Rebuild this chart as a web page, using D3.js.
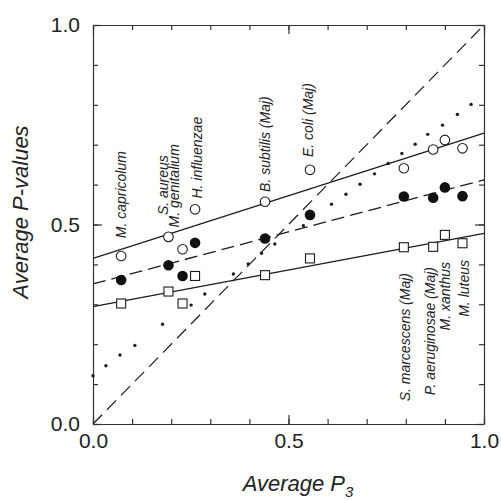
<!DOCTYPE html>
<html>
<head>
<meta charset="utf-8">
<script src="https://cdn.jsdelivr.net/npm/d3@7"></script>
<style>
  html, body { margin: 0; padding: 0; background: #fff; }
  svg { display: block; font-family: "Liberation Sans", Arial, Helvetica, sans-serif; }
</style>
</head>
<body>
<svg id="chart" width="501" height="501"></svg>
<script>
// ---------------- data ----------------
const organisms = ["M. capricolum", "S. aureus", "M. genitalium", "H. influenzae", "B. subtilis (Maj)",
                   "E. coli (Maj)", "S. marcescens (Maj)", "P. aeruginosae (Maj)", "M. xanthus", "M. luteus"];
const avgP3 = [0.072, 0.193, 0.229, 0.261, 0.440, 0.555, 0.795, 0.870, 0.900, 0.945];
const openCircleValues   = [0.421, 0.469, 0.438, 0.538, 0.557, 0.637, 0.641, 0.688, 0.712, 0.691];
const filledCircleValues = [0.361, 0.398, 0.371, 0.454, 0.465, 0.524, 0.570, 0.567, 0.593, 0.571];
const squareValues       = [0.302, 0.332, 0.302, 0.371, 0.373, 0.415, 0.443, 0.444, 0.474, 0.453];
// regression lines: [intercept, slope]
const openFit   = [0.415, 0.314];
const filledFit = [0.351, 0.261];
const squareFit = [0.294, 0.184];
// small dots (x, y)
const dotX = [0.000, 0.033, 0.069, 0.107, 0.178, 0.251, 0.286, 0.359, 0.397, 0.431, 0.465, 0.538,
              0.610, 0.647, 0.683, 0.720, 0.755, 0.790, 0.824, 0.856, 0.894, 0.932, 0.967];
const dotY = [0.121, 0.146, 0.173, 0.197, 0.250, 0.298, 0.326, 0.376, 0.401, 0.428, 0.451, 0.497,
              0.551, 0.576, 0.601, 0.627, 0.653, 0.678, 0.701, 0.726, 0.749, 0.776, 0.801];
const majorTicks = [0, 0.5, 1.0];
const minorTicks = [0, 0.1, 0.2, 0.3, 0.4, 0.5, 0.6, 0.7, 0.8, 0.9, 1.0];
const xTitle = "Average P";
const xTitleSub = "3";
const yTitle = "Average P-values";

// ---------------- layout ----------------
const svg = d3.select("#chart");
const x = d3.scaleLinear().domain([0, 1]).range([93, 484]);
const y = d3.scaleLinear().domain([0, 1]).range([424, 25]);
const ink = "#1c1c1c";

// label layout (pixel offsets): side, horizontal shift, gap
const labelLayout = [
  {side: "above", dx: 0,  gap: 13},
  {side: "above", dx: -5, gap: 17},
  {side: "above", dx: -8, gap: 17},
  {side: "above", dx: 2,  gap: 6},
  {side: "above", dx: 0,  gap: 5},
  {side: "above", dx: -2, gap: 8},
  {side: "below", dx: 1,  end: 273},
  {side: "below", dx: -3, end: 267},
  {side: "below", dx: 0,  end: 262},
  {side: "below", dx: 2,  end: 260}
];

// ---------------- axes (frame with inward ticks) ----------------
function styleAxis(g) {
  g.selectAll("path, line").attr("stroke", "#333").attr("stroke-width", 1.2);
  g.selectAll("text").attr("fill", "#222").style("font-size", "21px");
}
const fmt = d3.format(".1f");

// minor ticks on all four sides
svg.append("g").attr("transform", `translate(0,${y(0)})`)
  .call(d3.axisBottom(x).tickValues(minorTicks).tickSizeInner(-5).tickSizeOuter(0).tickFormat(""))
  .call(styleAxis);
svg.append("g").attr("transform", `translate(0,${y(1)})`)
  .call(d3.axisTop(x).tickValues(minorTicks).tickSizeInner(-5).tickSizeOuter(0).tickFormat(""))
  .call(styleAxis);
svg.append("g").attr("transform", `translate(${x(0)},0)`)
  .call(d3.axisLeft(y).tickValues(minorTicks).tickSizeInner(-5).tickSizeOuter(0).tickFormat(""))
  .call(styleAxis);
svg.append("g").attr("transform", `translate(${x(1)},0)`)
  .call(d3.axisRight(y).tickValues(minorTicks).tickSizeInner(-5).tickSizeOuter(0).tickFormat(""))
  .call(styleAxis);

// major ticks with labels
svg.append("g").attr("transform", `translate(0,${y(0)})`)
  .call(d3.axisBottom(x).tickValues(majorTicks).tickSizeInner(-9).tickSizeOuter(0).tickPadding(9).tickFormat(fmt))
  .call(styleAxis).call(g => g.select(".domain").remove());
svg.append("g").attr("transform", `translate(0,${y(1)})`)
  .call(d3.axisTop(x).tickValues(majorTicks).tickSizeInner(-9).tickSizeOuter(0).tickFormat(""))
  .call(styleAxis).call(g => g.select(".domain").remove());
svg.append("g").attr("transform", `translate(${x(0)},0)`)
  .call(d3.axisLeft(y).tickValues(majorTicks).tickSizeInner(-9).tickSizeOuter(0).tickPadding(13).tickFormat(fmt))
  .call(styleAxis).call(g => g.select(".domain").remove());
svg.append("g").attr("transform", `translate(${x(1)},0)`)
  .call(d3.axisRight(y).tickValues(majorTicks).tickSizeInner(-9).tickSizeOuter(0).tickFormat(""))
  .call(styleAxis).call(g => g.select(".domain").remove());

// ---------------- lines ----------------
const line = d3.line().x(d => x(d[0])).y(d => y(d[1]));
const fitPts = f => [[0, f[0]], [1, f[0] + f[1]]];

svg.append("path").datum([[0, 0], [1, 1]]).attr("d", line)
  .attr("fill", "none").attr("stroke", ink).attr("stroke-width", 1.2).attr("stroke-dasharray", "13,7");
svg.append("path").datum(fitPts(openFit)).attr("d", line)
  .attr("fill", "none").attr("stroke", ink).attr("stroke-width", 1.3);
svg.append("path").datum(fitPts(filledFit)).attr("d", line)
  .attr("fill", "none").attr("stroke", ink).attr("stroke-width", 1.3).attr("stroke-dasharray", "13,6");
svg.append("path").datum(fitPts(squareFit)).attr("d", line)
  .attr("fill", "none").attr("stroke", ink).attr("stroke-width", 1.3);

// ---------------- points ----------------
svg.append("g").selectAll("circle").data(d3.zip(dotX, dotY)).join("circle")
  .attr("cx", d => x(d[0])).attr("cy", d => y(d[1])).attr("r", 1.7).attr("fill", ink);

const pts = avgP3.map((v, i) => ({i, x: v, o: openCircleValues[i], f: filledCircleValues[i], s: squareValues[i]}));

svg.append("g").selectAll("rect").data(pts).join("rect")
  .attr("x", d => x(d.x) - 4.5).attr("y", d => y(d.s) - 4.5)
  .attr("width", 9).attr("height", 9)
  .attr("fill", "#fff").attr("stroke", ink).attr("stroke-width", 1.1);
svg.append("g").selectAll("circle").data(pts).join("circle")
  .attr("cx", d => x(d.x)).attr("cy", d => y(d.f)).attr("r", 5.3).attr("fill", "#111");
svg.append("g").selectAll("circle").data(pts).join("circle")
  .attr("cx", d => x(d.x)).attr("cy", d => y(d.o)).attr("r", 4.8)
  .attr("fill", "#fff").attr("stroke", ink).attr("stroke-width", 1.1);

// ---------------- labels ----------------
svg.append("g").selectAll("text").data(pts).join("text")
  .attr("transform", d => {
    const L = labelLayout[d.i];
    const cx = x(d.x) + L.dx;
    const cy = L.side === "above" ? y(d.o) - 4.8 - L.gap : L.end;
    return `translate(${cx},${cy}) rotate(-90)`;
  })
  .attr("text-anchor", d => labelLayout[d.i].side === "above" ? "start" : "end")
  .attr("dy", "0.35em")
  .style("font-size", "14px").style("font-style", "italic").attr("fill", "#222")
  .text(d => organisms[d.i]);

// ---------------- titles ----------------
const xt = svg.append("text").attr("x", 298).attr("y", 491).attr("text-anchor", "middle")
  .style("font-size", "22px").style("font-style", "italic").attr("fill", "#222");
xt.append("tspan").text(xTitle);
xt.append("tspan").attr("dy", 6).style("font-size", "15px").text(xTitleSub);

svg.append("text").attr("transform", "translate(28,212) rotate(-90)").attr("text-anchor", "middle")
  .style("font-size", "22px").style("font-style", "italic").attr("fill", "#222")
  .text(yTitle);
</script>
</body>
</html>
